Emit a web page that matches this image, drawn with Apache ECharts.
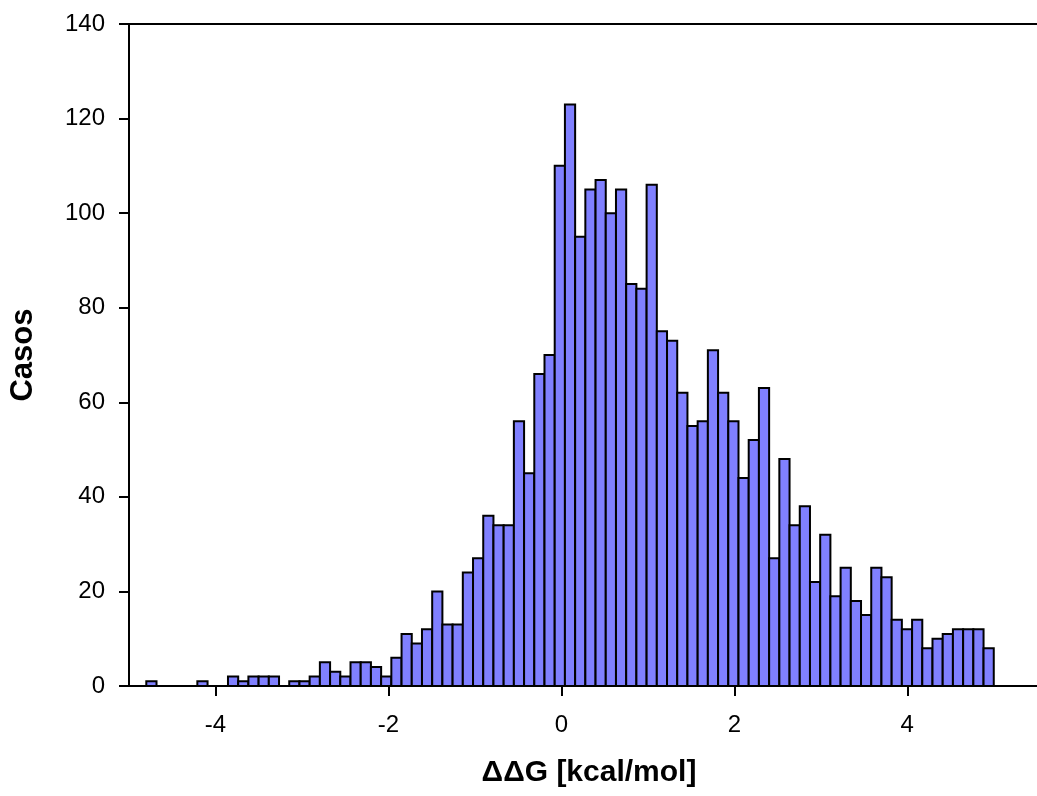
<!DOCTYPE html>
<html><head><meta charset="utf-8">
<script src="https://cdn.jsdelivr.net/npm/echarts@6/dist/echarts.min.js"></script>
<style>html,body{margin:0;padding:0;background:#fff}#c{width:1037px;height:796px}</style>
</head><body><div id="c"></div>
<script>
// Histogram of ΔΔG values: 83 equal-width bins from -4.8 to 5.0
const binStart = -4.8;
const binEnd = 5.0;
const counts = [1,0,0,0,0,1,0,0,2,1,2,2,2,0,1,1,2,5,3,2,5,5,4,2,6,11,9,12,20,13,13,24,27,36,34,34,56,45,66,70,110,123,95,105,107,100,105,85,84,106,75,73,62,55,56,71,62,56,44,52,63,27,48,34,38,22,32,19,25,18,15,25,23,14,12,14,8,10,11,12,12,12,8];
const xTickValues = [-4, -2, 0, 2, 4];
const xTitle = 'ΔΔG [kcal/mol]';
const yTitle = 'Casos';

const binWidth = (binEnd - binStart) / counts.length;
const bins = counts.map((c, i) => [binStart + i * binWidth, binStart + (i + 1) * binWidth, c]).filter(d => d[2] > 0);

const FONT = '"Liberation Sans", Arial, sans-serif';
const chart = echarts.init(document.getElementById('c'), null, {renderer: 'canvas'});
chart.setOption({
  animation: false,
  backgroundColor: '#fff',
  grid: {left: 129, right: -12, top: 24, bottom: 110, containLabel: false},
  xAxis: [{
    type: 'value', min: -5, max: 5.5,
    name: xTitle, nameLocation: 'middle', nameGap: 72,
    nameTextStyle: {fontFamily: FONT, fontWeight: 'bold', fontSize: 30, color: '#000', padding: [0, 0, 0, 12]},
    axisLine: {show: true, onZero: false, lineStyle: {color: '#000', width: 2}},
    axisTick: {show: true, customValues: xTickValues, length: 10, lineStyle: {color: '#000', width: 2}},
    axisLabel: {show: true, customValues: xTickValues, fontFamily: FONT, fontSize: 24, color: '#000', margin: 27},
    splitLine: {show: false}
  }, {
    type: 'value', min: -5, max: 5.5, position: 'top',
    axisLine: {show: true, onZero: false, lineStyle: {color: '#000', width: 2}},
    axisTick: {show: false}, axisLabel: {show: false}, splitLine: {show: false}
  }],
  yAxis: {
    type: 'value', min: 0, max: 140, interval: 20,
    name: yTitle, nameLocation: 'middle', nameGap: 90, nameRotate: 90,
    nameTextStyle: {fontFamily: FONT, fontWeight: 'bold', fontSize: 31, color: '#000'},
    axisLine: {show: true, onZero: false, lineStyle: {color: '#000', width: 2}},
    axisTick: {show: true, length: 10, lineStyle: {color: '#000', width: 2}},
    axisLabel: {fontFamily: FONT, fontSize: 24, color: '#000', margin: 24},
    splitLine: {show: false}
  },
  series: [{
    type: 'custom',
    xAxisIndex: 0,
    data: bins,
    encode: {x: [0, 1], y: 2},
    renderItem: function (params, api) {
      const p0 = api.coord([api.value(0), api.value(2)]);
      const p1 = api.coord([api.value(1), 0]);
      return {
        type: 'rect',
        shape: {x: p0[0], y: p0[1], width: p1[0] - p0[0], height: p1[1] - p0[1]},
        style: {fill: '#8080ff', stroke: '#000', lineWidth: 2}
      };
    }
  }]
});
</script>
</body></html>
